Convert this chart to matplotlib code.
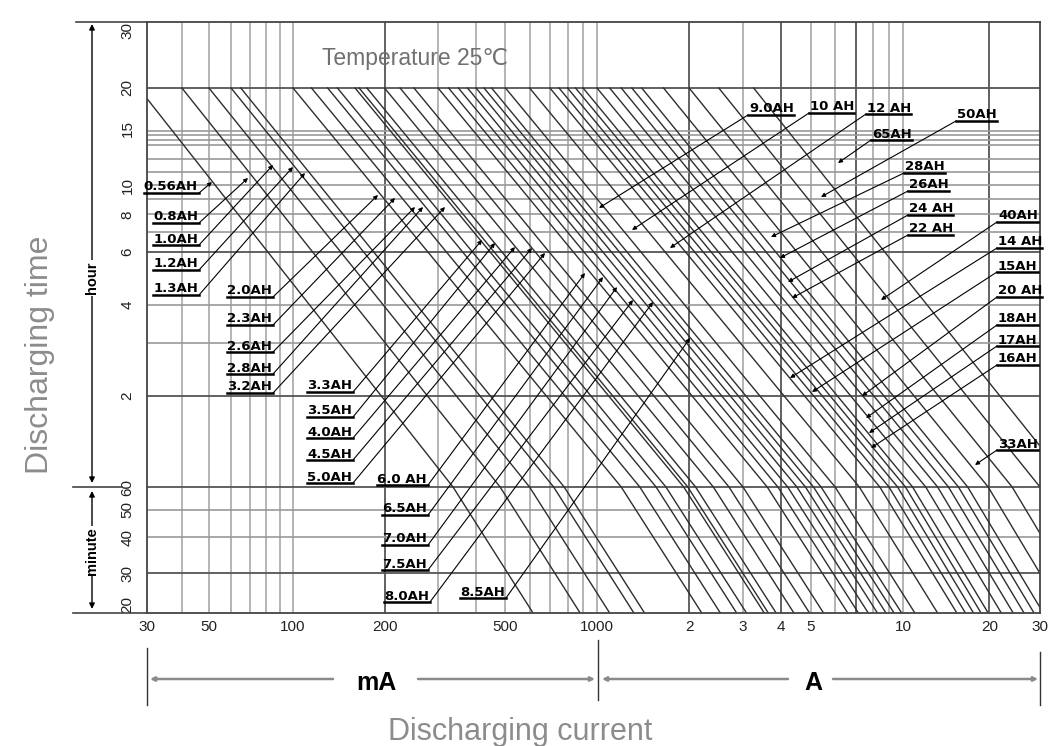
import numpy as np
import matplotlib
matplotlib.use('Agg')
import matplotlib.pyplot as plt
from matplotlib.lines import Line2D

plt.rcParams['font.family'] = ['Liberation Sans', 'DejaVu Sans']

W, H = 1053, 746

# battery capacities (one discharge line each)
cap_labels = ['0.56AH', '0.8AH', '1.0AH', '1.2AH', '1.3AH',
              '2.0AH', '2.3AH', '2.6AH', '2.8AH', '3.2AH',
              '3.3AH', '3.5AH', '4.0AH', '4.5AH', '5.0AH',
              '6.0 AH', '6.5AH', '7.0AH', '7.5AH', '8.0AH', '8.5AH',
              '9.0AH', '10 AH', '12 AH', '14 AH', '15AH', '16AH', '17AH',
              '18AH', '20 AH', '22 AH', '24 AH', '26AH', '28AH', '33AH',
              '40AH', '50AH', '65AH']

# current (mA) read where each line crosses 20 h, 1 h and 20 min
i_20h = [28, 40, 50, 60, 65,
         100, 115, 130, 140, 160,
         165, 175, 200, 225, 250,
         300, 325, 350, 375, 400, 425,
         450, 500, 600, 700, 750, 800, 850,
         900, 1000, 1100, 1200, 1300, 1400, 1650,
         2000, 2500, 3250]
i_1h = [336, 480, 600, 720, 780,
        1200, 1380, 1560, 1680, 1920,
        1980, 2100, 2400, 2700, 3000,
        3600, 3900, 4200, 4500, 4800, 5100,
        5400, 6000, 7200, 8400, 9000, 9600, 10200,
        10800, 12000, 13200, 14400, 15600, 16800, 19800,
        24000, 30000, 39000]
i_20min = [616, 880, 1100, 1320, 1430,
           2200, 2530, 2860, 3080, 3520,
           3630, 3850, 4400, 4950, 5500,
           6600, 7150, 7700, 8250, 8800, 9350,
           9900, 11000, 13200, 15400, 16500, 17600, 18700,
           19800, 22000, 24200, 26400, 28600, 30800, 36300,
           44000, 55000, 71500]

# axis ticks
x_ticks = [30, 50, 100, 200, 500, 1000, 2000, 3000, 4000, 5000, 10000, 20000, 30000]
x_ticklabels = ['30', '50', '100', '200', '500', '1000', '2', '3', '4', '5', '10', '20', '30']
y_ticks = [30, 20, 15, 10, 8, 6, 4, 2, 1, 50 / 60, 40 / 60, 0.5, 1 / 3]
y_ticklabels = ['30', '20', '15', '10', '8', '6', '4', '2', '60', '50', '40', '30', '20']

# grid
v_light = [40, 50, 60, 70, 80, 90, 100, 300, 400, 500, 600, 700, 800, 900, 1000,
           3000, 5000, 6000, 8000, 9000, 10000]
v_dark = [200, 2000, 4000, 7000, 20000]
h_light = [14.7, 14.3, 13.8, 13.3, 12, 11, 10, 9, 8, 7, 4, 3, 50 / 60, 40 / 60]
h_dark = [20, 6, 2, 1, 0.5]

# label layout (picture pixels): end of underline -> arrow tip
anchor_px = [(199, 193), (199, 223), (199, 245), (199, 270), (199, 295),
             (273, 297), (273, 325), (273, 352), (273, 374), (273, 393),
             (353, 392), (353, 417), (353, 438), (353, 460), (353, 483),
             (428, 485), (428, 515), (428, 545), (428, 570), (430, 602), (506, 598),
             (748, 115), (809, 113), (866, 114), (997, 248), (997, 272), (997, 365),
             (997, 346), (997, 325), (997, 297), (908, 235), (908, 215), (908, 191),
             (904, 173), (997, 450), (997, 222), (956, 121), (871, 140)]
tip_px = [(212, 182), (248, 178), (273, 165), (293, 167), (305, 173),
          (378, 195), (395, 198), (415, 207), (423, 207), (445, 207),
          (482, 240), (495, 243), (515, 247), (532, 248), (545, 253),
          (585, 273), (603, 277), (617, 287), (633, 300), (653, 302), (690, 338),
          (599, 208), (632, 230), (670, 248), (790, 378), (812, 392), (871, 448),
          (869, 433), (866, 418), (862, 396), (792, 298), (788, 282), (780, 258),
          (771, 237), (975, 465), (881, 300), (821, 197), (838, 163)]


def piecewise_log(knots, pos):
    # log scale that is stretched a little between knots, like the printed chart
    lk = np.log10(knots)
    pos = np.asarray(pos, float)

    def fwd(v):
        v = np.asarray(v, float)
        lv = np.log10(np.where(v > 0, v, 1e-12))
        out = np.interp(lv, lk, pos)
        out = np.where(lv < lk[0], pos[0] + (lv - lk[0]) * (pos[1] - pos[0]) / (lk[1] - lk[0]), out)
        out = np.where(lv > lk[-1], pos[-1] + (lv - lk[-1]) * (pos[-1] - pos[-2]) / (lk[-1] - lk[-2]), out)
        return out

    def inv(p):
        p = np.asarray(p, float)
        out = np.interp(p, pos, lk)
        out = np.where(p < pos[0], lk[0] + (p - pos[0]) * (lk[1] - lk[0]) / (pos[1] - pos[0]), out)
        out = np.where(p > pos[-1], lk[-1] + (p - pos[-1]) * (lk[-1] - lk[-2]) / (pos[-1] - pos[-2]), out)
        return 10 ** out

    return fwd, inv


def fxy(px, py):
    return (px / W, 1 - py / H)


fig = plt.figure(figsize=(W / 100, H / 100), dpi=100)
ax = fig.add_axes([147 / W, 1 - 613 / H, (1040 - 147) / W, (613 - 22) / H])

xf, xi = piecewise_log([30, 100, 1000, 10000, 30000], [147, 293, 597, 903, 1040])
yf, yi = piecewise_log([1 / 3, 0.5, 1, 10, 20, 30], [-613, -573, -487, -185, -88, -22])
ax.set_xscale('function', functions=(xf, xi))
ax.set_yscale('function', functions=(yf, yi))
ax.set_xlim(30, 30000)
ax.set_ylim(1 / 3, 30)

for v in v_light:
    ax.axvline(v, color='#a8a8a8', lw=1.2, zorder=1)
for v in v_dark:
    ax.axvline(v, color='#555555', lw=1.3, zorder=1)
for h in h_light:
    ax.axhline(h, color='#9a9a9a', lw=1.2, zorder=1)
for h in h_dark:
    ax.axhline(h, color='#555555', lw=1.3, zorder=1)

# discharge lines
for a, b, c in zip(i_20h, i_1h, i_20min):
    ax.plot([a, b, c], [20, 1, 1 / 3], color='#2e2e2e', lw=1.0, zorder=2)

ax.set_xticks(x_ticks)
ax.set_xticklabels(x_ticklabels, fontsize=11, color='#222222')
ax.set_yticks(y_ticks)
ax.set_yticklabels(y_ticklabels, fontsize=11, color='#222222', rotation=90, va='center')
ylabs = ax.get_yticklabels()
ylabs[0].set_va('top')
ylabs[-1].set_va('bottom')
ax.tick_params(axis='x', length=0, pad=5)
ax.tick_params(axis='y', length=0, pad=9)
ax.minorticks_off()
for sp in ax.spines.values():
    sp.set_color('#444444')
    sp.set_linewidth(1.3)

ax.text(*fxy(322, 58), 'Temperature 25℃', transform=fig.transFigure,
        fontsize=16.5, color='#707070', ha='left', va='center')

# left side brackets
def fline(p1, p2, color='#444444', lw=1.2):
    fig.add_artist(Line2D([p1[0] / W, p2[0] / W], [1 - p1[1] / H, 1 - p2[1] / H],
                          transform=fig.transFigure, color=color, lw=lw))


def farrow(p_from, p_to, style='-|>', color='k', lw=1.0, ms=8):
    ax.annotate('', xy=fxy(*p_to), xycoords='figure fraction',
                xytext=fxy(*p_from), textcoords='figure fraction',
                arrowprops=dict(arrowstyle=style, color=color, lw=lw,
                                mutation_scale=ms, shrinkA=0, shrinkB=0),
                annotation_clip=False)


fline((76, 22), (147, 22))
fline((73, 487), (122, 487))
fline((73, 613), (147, 613))
farrow((92, 24), (92, 483), style='<|-|>')
farrow((92, 491), (92, 609), style='<|-|>')
fig.text(*fxy(92, 278), 'hour', rotation=90, ha='center', va='center', fontsize=10.5,
         fontweight='bold', bbox=dict(fc='white', ec='none', pad=1))
fig.text(*fxy(92, 551), 'minute', rotation=90, ha='center', va='center', fontsize=10.5,
         fontweight='bold', bbox=dict(fc='white', ec='none', pad=1))
fig.text(*fxy(40, 355), 'Discharging time', rotation=90, ha='center', va='center',
         fontsize=23, color='#8c8c8c')

# bottom unit arrows
fline((147, 648), (147, 705), color='#333333', lw=1.0)
fline((598, 640), (598, 700), color='#333333', lw=1.0)
fline((1040, 652), (1040, 705), color='#333333', lw=1.0)
farrow((333, 679), (150, 679), color='#8a8a8a', lw=1.8, ms=6)
farrow((418, 679), (595, 679), color='#8a8a8a', lw=1.8, ms=6)
farrow((788, 679), (602, 679), color='#8a8a8a', lw=1.8, ms=6)
farrow((833, 679), (1038, 679), color='#8a8a8a', lw=1.8, ms=6)
fig.text(*fxy(376, 683), 'mA', ha='center', va='center', fontsize=18, fontweight='bold')
fig.text(*fxy(813, 683), 'A', ha='center', va='center', fontsize=18, fontweight='bold')
fig.text(*fxy(520, 740), 'Discharging current', ha='center', va='baseline',
         fontsize=22, color='#8c8c8c')

# capacity labels with leader arrows
labels = []
for s, (axp, ayp), (tx, ty) in zip(cap_labels, anchor_px, tip_px):
    if axp < tx:
        t = fig.text((axp - 1) / W, 1 - (ayp - 2.5) / H, s, ha='right', va='baseline',
                     fontsize=9.5, fontweight='bold', family='DejaVu Sans')
    else:
        t = fig.text((axp + 1) / W, 1 - (ayp - 2.5) / H, s, ha='left', va='baseline',
                     fontsize=9.5, fontweight='bold', family='DejaVu Sans')
    labels.append((t, axp, ayp))
    farrow((axp, ayp), (tx, ty), lw=0.8, ms=6)

fig.canvas.draw()
r = fig.canvas.get_renderer()
for t, axp, ayp in labels:
    bb = t.get_window_extent(renderer=r)
    x0 = min(bb.x0, axp)
    x1 = max(bb.x1, axp)
    fline((x0, ayp), (x1, ayp), color='k', lw=1.8)

fig.savefig('out.png', dpi=100)
